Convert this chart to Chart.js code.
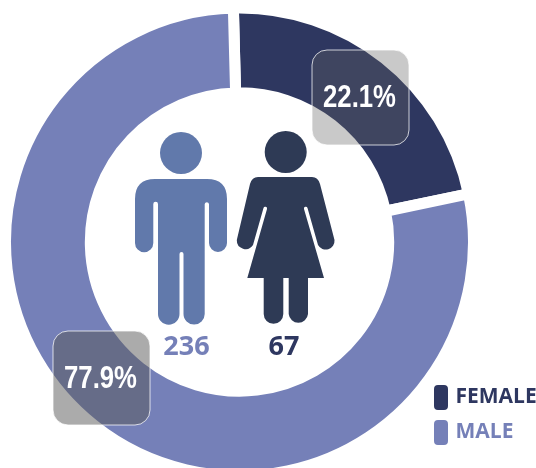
<!DOCTYPE html>
<html>
<head>
<meta charset="utf-8">
<style>
html, body { margin: 0; padding: 0; background: #fff; overflow: hidden; }
#wrap { width: 536px; height: 468px; overflow: hidden; }
</style>
<script src="https://cdn.jsdelivr.net/npm/chart.js@4"></script>
</head>
<body>
<div id="wrap"><canvas id="Chart" width="536" height="482"></canvas></div>
<script>
const categories = ['FEMALE', 'MALE'];
const counts = [67, 236];
const percents = ['22.1%', '77.9%'];
const colors = ['#2e3760', '#7580b8'];

const MAN = new Path2D('M155 179 H207 Q227 179 227 199 V243 A9 9 0 0 1 209 243 V204 A2.2 2.2 0 0 0 204.7 204 V314 A10.6 10.6 0 0 1 183.5 314 V254 A2 2 0 0 0 179.5 254 V314 A10.7 10.7 0 0 1 158 314 V204 A2.3 2.3 0 0 0 153.3 204 V243 A9 9 0 0 1 135 243 V199 Q135 179 155 179 Z');
const WOMAN = new Path2D('M258 177 H312 Q318 177 320 184 L334.5 240 A8.8 8.8 0 0 1 318 245 L307.5 208 A1.8 1.8 0 0 0 304 209 L324 278 H308 V314 A9.7 9.7 0 0 1 288.7 314 V278 H283.3 V314 A9.8 9.8 0 0 1 263.7 314 V278 H247.3 L267 209 A1.8 1.8 0 0 0 263.5 208 L253 245 A8.8 8.8 0 0 1 236.8 240 L250 184 Q252 177 258 177 Z');

// callout boxes on the ring
const callouts = [
    { x: 312, y: 50, w: 97, h: 95, fill: 'rgba(97, 97, 97, 0.34)' },
    { x: 53, y: 331, w: 97, h: 94, fill: 'rgba(88, 88, 88, 0.5)' }
];

const overlay = {
    id: 'overlay',
    afterLayout(chart) {
        // move the legend to the lower right corner
        const legend = chart.legend;
        legend.left = 423;
        legend.top = 373;
        legend.right = 536;
        legend.bottom = 468;
    },
    afterDatasetsDraw(chart) {
        const ctx = chart.ctx;
        ctx.save();

        ctx.fillStyle = '#6179ab';
        ctx.beginPath();
        ctx.arc(181, 153, 21, 0, Math.PI * 2);
        ctx.fill();
        ctx.fill(MAN);

        ctx.fillStyle = '#2e3a55';
        ctx.beginPath();
        ctx.arc(285.7, 152, 21, 0, Math.PI * 2);
        ctx.fill();
        ctx.fill(WOMAN);

        ctx.textAlign = 'center';
        ctx.textBaseline = 'middle';
        ctx.font = 'bold 27px "Open Sans"';
        ctx.fillStyle = colors[1];
        ctx.fillText(counts[1], 186.5, 347);
        ctx.fillStyle = colors[0];
        ctx.fillText(counts[0], 284, 347);

        callouts.forEach((c, i) => {
            ctx.beginPath();
            ctx.roundRect(c.x, c.y, c.w, c.h, 15);
            ctx.fillStyle = c.fill;
            ctx.fill();
            ctx.strokeStyle = 'rgba(255, 255, 255, 0.75)';
            ctx.lineWidth = 1;
            ctx.stroke();
            // narrow look, no condensed face installed
            ctx.save();
            ctx.translate(c.x + c.w / 2 - 1, c.y + c.h / 2 + 1);
            ctx.scale(0.83, 1);
            ctx.fillStyle = '#fff';
            ctx.font = 'bold 31px "Liberation Sans"';
            ctx.fillText(percents[i], 0, 0);
            ctx.restore();
        });
        ctx.restore();
    }
};

const data = {
    labels: categories,
    datasets: [
        {
            data: counts,
            backgroundColor: colors,
            borderColor: '#fff',
            borderWidth: 11
        }]
};

const config = {
    type: 'doughnut',
    data,
    options: {
        responsive: false,
        animation: false,
        cutout: '63.75%',
        rotation: -1.5,
        layout: {
            padding: { left: -1, right: 57, top: 2, bottom: 0 }
        },
        plugins: {
            tooltip: { enabled: false },
            legend: {
                position: 'chartArea',
                align: 'start',
                labels: {
                    boxWidth: 8,
                    boxHeight: 19,
                    padding: 14,
                    useBorderRadius: true,
                    borderRadius: 1,
                    font: { family: '"Open Sans"', weight: 'bold', size: 21 },
                    generateLabels: () => categories.map((name, i) => ({
                        text: name,
                        fillStyle: colors[i],
                        strokeStyle: colors[i],
                        fontColor: colors[i],
                        lineWidth: 6,
                        borderRadius: 1,
                        index: i
                    }))
                }
            }
        }
    },
    plugins: [overlay]
};

const myChart = new Chart(document.getElementById('Chart'), config);
</script>
</body>
</html>
